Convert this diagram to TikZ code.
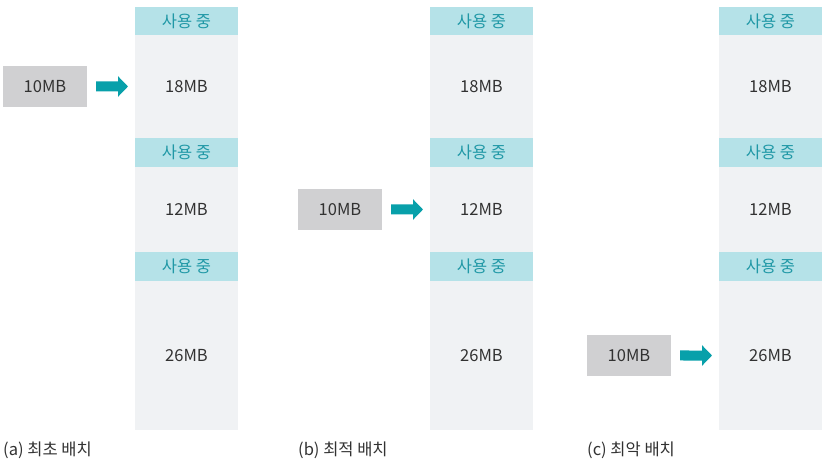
\documentclass[tikz,border=0pt]{standalone}
\usepackage{fontspec}
\setmainfont{Noto Sans CJK KR}
\usetikzlibrary{arrows.meta}
\definecolor{bandfill}{RGB}{181,226,232}
\definecolor{bandtext}{RGB}{32,152,166}
\definecolor{colbg}{RGB}{240,242,244}
\definecolor{boxfill}{RGB}{208,208,210}
\definecolor{arrowc}{RGB}{8,160,170}
\definecolor{txt}{RGB}{50,50,50}
\begin{document}
\begin{tikzpicture}[x=1bp,y=-1bp,
  segbase/.style={inner sep=0pt, outer sep=0pt, anchor=north west, minimum width=103bp, font=\fontsize{16.5bp}{19bp}\selectfont},
  band/.style={segbase, fill=bandfill, text=bandtext, minimum height=#1},
  free/.style={segbase, fill=colbg, text=txt, minimum height=#1},
  reqbox/.style={inner sep=0pt, outer sep=0pt, fill=boxfill, text=txt, minimum width=84bp, minimum height=41bp, font=\fontsize{16.5bp}{19bp}\selectfont},
  captext/.style={inner sep=0pt, anchor=west, text=txt, font=\fontsize{16.5bp}{19bp}\selectfont},
  fatarrow/.style={draw=arrowc, line width=10bp, -{Triangle[length=10bp,width=20bp]}, shorten <=9bp, shorten >=7bp}
]
\useasboundingbox (0,0) rectangle (827,465);
% columns
\foreach \c/\x in {1/135,2/430,3/719}{
  \node[band=28bp] (c\c b1) at (\x,7) {사용 중};
  \node[free=103bp] (c\c f1) at (\x,35) {18MB};
  \node[band=29bp] (c\c b2) at (\x,138) {사용 중};
  \node[free=85bp] (c\c f2) at (\x,167) {12MB};
  \node[band=29bp] (c\c b3) at (\x,252) {사용 중};
  \node[free=149bp] (c\c f3) at (\x,281) {26MB};
}
% requests
\node[reqbox] (r1) at (45,86.5) {10MB};
\node[reqbox] (r2) at (340,209.5) {10MB};
\node[reqbox] (r3) at (629,355.5) {10MB};
\draw[fatarrow] (r1.east) -- (c1f1.west);
\draw[fatarrow] (r2.east) -- (c2f2.west);
\draw[fatarrow] (r3.east) -- (c3f3.west);
% captions
\node[captext] (capa) at (3,450) {(a) 최초 배치};
\node[captext] (capb) at (298,450) {(b) 최적 배치};
\node[captext] (capc) at (587,450) {(c) 최악 배치};
\end{tikzpicture}
\end{document}
